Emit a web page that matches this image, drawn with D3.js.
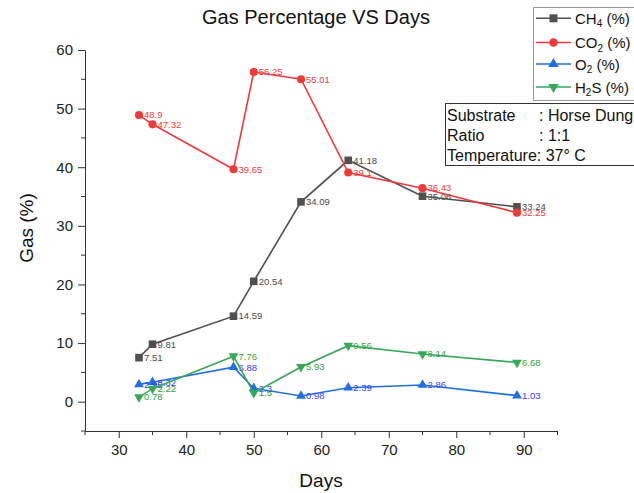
<!DOCTYPE html>
<meta charset="utf-8">
<style>
body { margin: 0; background: #fff; }
svg { font-family: "Liberation Sans", Arial, sans-serif; }
.axis path, .axis line { stroke: #333; }
.axis text { fill: #222; font-size: 15px; }
</style>
<svg width="634" height="493"></svg>
<script src="https://d3js.org/d3.v7.min.js"></script>
<script>

var days = [33, 35, 47, 50, 57, 64, 75, 89];
var ch4 = [7.51, 9.81, 14.59, 20.54, 34.09, 41.18, 35.06, 33.24];
var co2 = [48.9, 47.32, 39.65, 56.25, 55.01, 39.1, 36.43, 32.25];
var o2  = [2.95, 3.32, 5.88, 2.3, 0.98, 2.39, 2.86, 1.03];
var h2s = [0.78, 2.22, 7.76, 1.5, 5.93, 9.56, 8.14, 6.68];

var xTicks = [30, 40, 50, 60, 70, 80, 90];
var yTicks = [0, 10, 20, 30, 40, 50, 60];

var infoLabels = ["Substrate", "Ratio", "Temperature: 37\u00b0 C"];
var infoValues = [": Horse Dung", ": 1:1", ""];

var series = [
  {name: "CH", sub: "4", rest: " (%)", values: ch4, color: "#505050", label: "#4a4a4a", shape: d3.symbolSquare, size: 58, rot: 0},
  {name: "CO", sub: "2", rest: " (%)", values: co2, color: "#f03a3a", label: "#f03a3a", shape: d3.symbolCircle, size: 52, rot: 0},
  {name: "O", sub: "2", rest: " (%)", values: o2, color: "#1f6fdc", label: "#3c3cf5", shape: d3.symbolTriangle, size: 42, rot: 0},
  {name: "H", sub: "2", rest: "S (%)", values: h2s, color: "#35a85a", label: "#33a040", shape: d3.symbolTriangle, size: 42, rot: 180}
];

var svg = d3.select("svg");

var x = d3.scaleLinear().domain([25, 95]).range([85, 557.5]);
var y = d3.scaleLinear().domain([-5, 60]).range([431, 50]);

// axes
var xAxis = svg.append("g")
    .attr("class", "axis")
    .attr("transform", "translate(0," + y(-5) + ")");
xAxis.call(d3.axisBottom(x).tickValues(xTicks).tickSize(7).tickSizeOuter(0).tickPadding(6).tickFormat(d3.format("d")));
xAxis.selectAll(".minor")
    .data(d3.range(25, 96, 10))
  .enter().append("line")
    .attr("class", "minor")
    .attr("x1", function(d) { return x(d); })
    .attr("x2", function(d) { return x(d); })
    .attr("y2", 4);

var yAxis = svg.append("g")
    .attr("class", "axis")
    .attr("transform", "translate(" + x(25) + ",0)");
yAxis.call(d3.axisLeft(y).tickValues(yTicks).tickSize(7).tickSizeOuter(0).tickPadding(5).tickFormat(d3.format("d")));
yAxis.selectAll(".minor")
    .data(d3.range(-5, 60, 10))
  .enter().append("line")
    .attr("class", "minor")
    .attr("y1", function(d) { return y(d); })
    .attr("y2", function(d) { return y(d); })
    .attr("x2", -4);

svg.append("text")
    .attr("x", 316)
    .attr("y", 24)
    .attr("text-anchor", "middle")
    .style("font-size", "20px")
    .attr("fill", "#111")
    .text("Gas Percentage VS Days");

svg.append("text")
    .attr("x", 321)
    .attr("y", 487)
    .attr("text-anchor", "middle")
    .style("font-size", "19px")
    .attr("fill", "#111")
    .text("Days");

svg.append("text")
    .attr("transform", "translate(33,228) rotate(-90)")
    .attr("text-anchor", "middle")
    .style("font-size", "19px")
    .attr("fill", "#111")
    .text("Gas (%)");

// series
var line = d3.line()
    .x(function(d) { return x(d[0]); })
    .y(function(d) { return y(d[1]); });

series.forEach(function(s) {
  var pts = days.map(function(d, i) { return [d, s.values[i]]; });
  var g = svg.append("g");

  g.append("path")
      .datum(pts)
      .attr("fill", "none")
      .attr("stroke", s.color)
      .attr("stroke-width", 1.6)
      .attr("d", line);

  g.selectAll(".pt")
      .data(pts)
    .enter().append("path")
      .attr("class", "pt")
      .attr("transform", function(d) { return "translate(" + x(d[0]) + "," + y(d[1]) + ") rotate(" + s.rot + ")"; })
      .attr("d", d3.symbol().type(s.shape).size(s.size))
      .attr("fill", s.color);

  g.selectAll(".lbl")
      .data(pts)
    .enter().append("text")
      .attr("class", "lbl")
      .attr("x", function(d) { return x(d[0]) + 5; })
      .attr("y", function(d) { return y(d[1]); })
      .attr("dy", "0.35em")
      .style("font-size", "9.5px")
      .attr("fill", s.label)
      .text(function(d) { return d[1]; });
});

// legend
var legend = svg.append("g");
legend.append("rect")
    .attr("x", 533.5)
    .attr("y", 7.5)
    .attr("width", 120)
    .attr("height", 93)
    .attr("fill", "#fff")
    .attr("stroke", "#9a9a9a");

var rows = [18.3, 42.5, 64, 87];
series.forEach(function(s, i) {
  var r = legend.append("g").attr("transform", "translate(0," + rows[i] + ")");
  r.append("line")
      .attr("x1", 536).attr("x2", 571)
      .attr("stroke", s.color)
      .attr("stroke-width", 1.6);
  r.append("path")
      .attr("transform", "translate(553.5,0) rotate(" + s.rot + ")")
      .attr("d", d3.symbol().type(s.shape).size(s.size + 6))
      .attr("fill", s.color);
  var t = r.append("text")
      .attr("x", 575)
      .attr("y", 5.5)
      .style("font-size", "15px")
      .attr("fill", "#111");
  t.append("tspan").text(s.name);
  t.append("tspan").attr("dy", 3.5).style("font-size", "10px").text(s.sub);
  t.append("tspan").attr("dy", -3.5).text(s.rest);
});

// info box
var info = svg.append("g");
info.append("rect")
    .attr("x", 445.5)
    .attr("y", 103.5)
    .attr("width", 200)
    .attr("height", 62)
    .attr("fill", "#fff")
    .attr("stroke", "#333");

infoLabels.forEach(function(lab, i) {
  info.append("text")
      .attr("x", 447)
      .attr("y", 120.5 + i * 20)
      .style("font-size", "16px")
      .attr("fill", "#111")
      .text(lab);
  info.append("text")
      .attr("x", 539)
      .attr("y", 120.5 + i * 20)
      .style("font-size", "16px")
      .attr("fill", "#111")
      .text(infoValues[i]);
});

</script>
